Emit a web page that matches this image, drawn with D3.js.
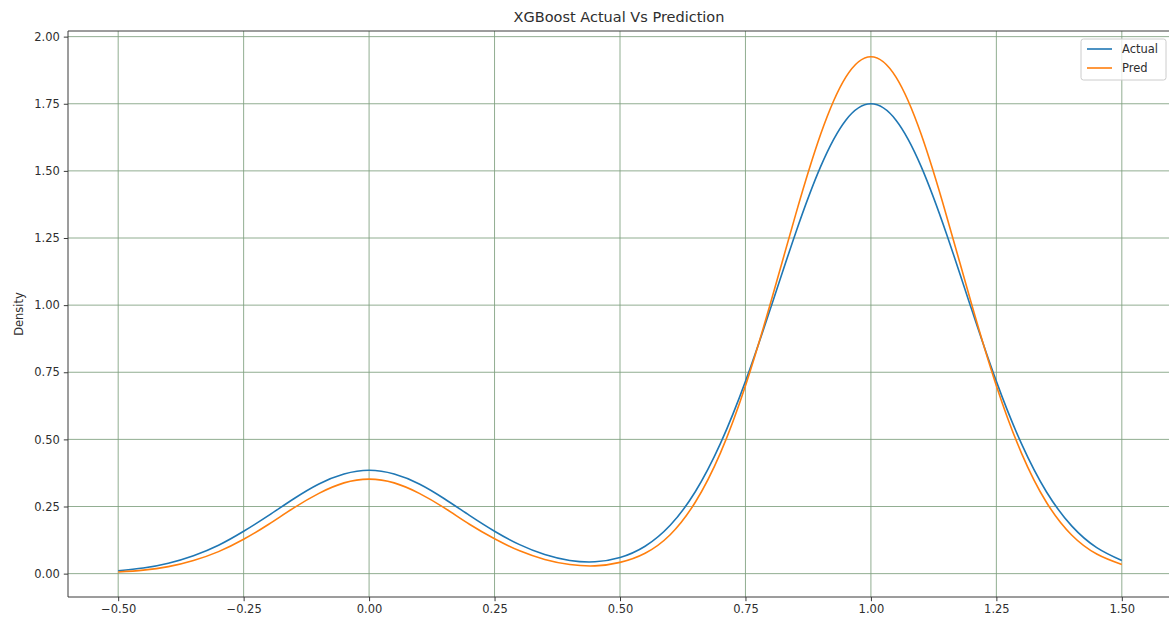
<!DOCTYPE html>
<html>
<head>
<meta charset="utf-8">
<script src="https://cdn.jsdelivr.net/npm/d3@7"></script>
<style>
  html, body { margin: 0; padding: 0; background: #fff; }
  svg { display: block; font-family: "DejaVu Sans", sans-serif; }
</style>
</head>
<body>
<svg id="chart" width="1169" height="626"></svg>
<script>
// Density estimates sampled every 0.05 from -0.5 to 1.5
const xValues = d3.range(41).map(i => -0.5 + i * 0.05);

const actualDensity = [
  0.011, 0.021, 0.039, 0.067, 0.106, 0.158, 0.217, 0.279, 0.334, 0.371,
  0.385, 0.371, 0.334, 0.279, 0.217, 0.158, 0.108, 0.071, 0.049, 0.044,
  0.060, 0.102, 0.180, 0.305, 0.484, 0.716, 0.988, 1.269, 1.517, 1.689,
  1.750, 1.689, 1.517, 1.269, 0.988, 0.716, 0.484, 0.304, 0.178, 0.097,
  0.049
];

const predDensity = [
  0.006, 0.013, 0.026, 0.049, 0.082, 0.128, 0.184, 0.245, 0.299, 0.338,
  0.352, 0.338, 0.299, 0.245, 0.184, 0.130, 0.085, 0.053, 0.034, 0.029,
  0.042, 0.076, 0.145, 0.266, 0.449, 0.700, 1.008, 1.337, 1.637, 1.849,
  1.925, 1.849, 1.637, 1.337, 1.008, 0.700, 0.449, 0.265, 0.144, 0.073,
  0.034
];

const seriesNames = ["Actual", "Pred"];
const seriesColors = ["#1f77b4", "#ff7f0e"];

const xTicks = [-0.5, -0.25, 0, 0.25, 0.5, 0.75, 1.0, 1.25, 1.5];
const yTicks = [0, 0.25, 0.5, 0.75, 1.0, 1.25, 1.5, 1.75, 2.0];

const titleText = "XGBoost Actual Vs Prediction";
const yLabelText = "Density";

// Layout
const svg = d3.select("#chart");
const plot = { left: 68, right: 1172, top: 31, bottom: 597 };

const x = d3.scaleLinear().domain([-0.6, 1.6]).range([plot.left, plot.right]);
const y = d3.scaleLinear().domain([-0.087, 2.021]).range([plot.bottom, plot.top]);

const gridColor = "#7fa07f";
const textColor = "#2e2e2e";
const spineColor = "#3a3a3a";

// Grid lines
const grid = svg.append("g");
grid.selectAll("line.vx").data(xTicks).join("line")
  .attr("x1", d => x(d)).attr("x2", d => x(d))
  .attr("y1", plot.top).attr("y2", plot.bottom)
  .attr("stroke", gridColor).attr("stroke-width", 1).attr("opacity", 0.85);
grid.selectAll("line.hy").data(yTicks).join("line")
  .attr("x1", plot.left).attr("x2", plot.right)
  .attr("y1", d => y(d)).attr("y2", d => y(d))
  .attr("stroke", gridColor).attr("stroke-width", 1).attr("opacity", 0.85);

// Density curves (natural spline through the samples)
const line = d3.line()
  .x((d, i) => x(xValues[i]))
  .y(d => y(d))
  .curve(d3.curveNatural);

[actualDensity, predDensity].forEach((vals, k) => {
  svg.append("path")
    .datum(vals)
    .attr("d", line)
    .attr("fill", "none")
    .attr("stroke", seriesColors[k])
    .attr("stroke-width", 1.6);
});

// Axes
const xAxis = d3.axisBottom(x).tickValues(xTicks)
  .tickFormat(d3.format(".2f")).tickSize(4.2).tickPadding(4);
const yAxis = d3.axisLeft(y).tickValues(yTicks)
  .tickFormat(d3.format(".2f")).tickSize(4.2).tickPadding(4);

const gx = svg.append("g").attr("transform", `translate(0,${plot.bottom})`).call(xAxis);
const gy = svg.append("g").attr("transform", `translate(${plot.left},0)`).call(yAxis);

[gx, gy].forEach(g => {
  g.select(".domain").remove();
  g.selectAll(".tick line").attr("stroke", spineColor).attr("stroke-width", 1);
  g.selectAll(".tick text")
    .attr("fill", textColor)
    .style("font-size", "11.5px")
    .style("font-family", "'DejaVu Sans', sans-serif");
});
gx.selectAll(".tick text").text(d => d < 0 ? "\u2212" + d3.format(".2f")(-d) : d3.format(".2f")(d));

// Spines
svg.append("line")
  .attr("x1", plot.left).attr("x2", plot.left)
  .attr("y1", plot.top).attr("y2", plot.bottom)
  .attr("stroke", spineColor).attr("stroke-width", 1);
svg.append("line")
  .attr("x1", plot.left).attr("x2", plot.right)
  .attr("y1", plot.bottom).attr("y2", plot.bottom)
  .attr("stroke", spineColor).attr("stroke-width", 1);
svg.append("line")
  .attr("x1", plot.left).attr("x2", plot.right)
  .attr("y1", plot.top).attr("y2", plot.top)
  .attr("stroke", spineColor).attr("stroke-width", 1);

// Title
svg.append("text")
  .attr("x", (plot.left + 1166) / 2 + 2)
  .attr("y", 22)
  .attr("text-anchor", "middle")
  .attr("fill", textColor)
  .style("font-size", "14.5px")
  .text(titleText);

// Y axis label
svg.append("text")
  .attr("transform", `translate(23,${(plot.top + plot.bottom) / 2}) rotate(-90)`)
  .attr("text-anchor", "middle")
  .attr("fill", textColor)
  .style("font-size", "11.5px")
  .text(yLabelText);

// Legend
const legend = svg.append("g").attr("transform", "translate(1081,39)");
legend.append("rect")
  .attr("width", 85).attr("height", 41)
  .attr("rx", 2.5)
  .attr("fill", "#fff").attr("fill-opacity", 0.8)
  .attr("stroke", "#cccccc").attr("stroke-width", 1);
seriesNames.forEach((name, i) => {
  const ly = 10 + i * 19;
  legend.append("line")
    .attr("x1", 6).attr("x2", 31)
    .attr("y1", ly).attr("y2", ly)
    .attr("stroke", seriesColors[i]).attr("stroke-width", 1.6);
  legend.append("text")
    .attr("x", 41).attr("y", ly + 4)
    .attr("fill", textColor)
    .style("font-size", "11.5px")
    .text(name);
});
</script>
</body>
</html>
